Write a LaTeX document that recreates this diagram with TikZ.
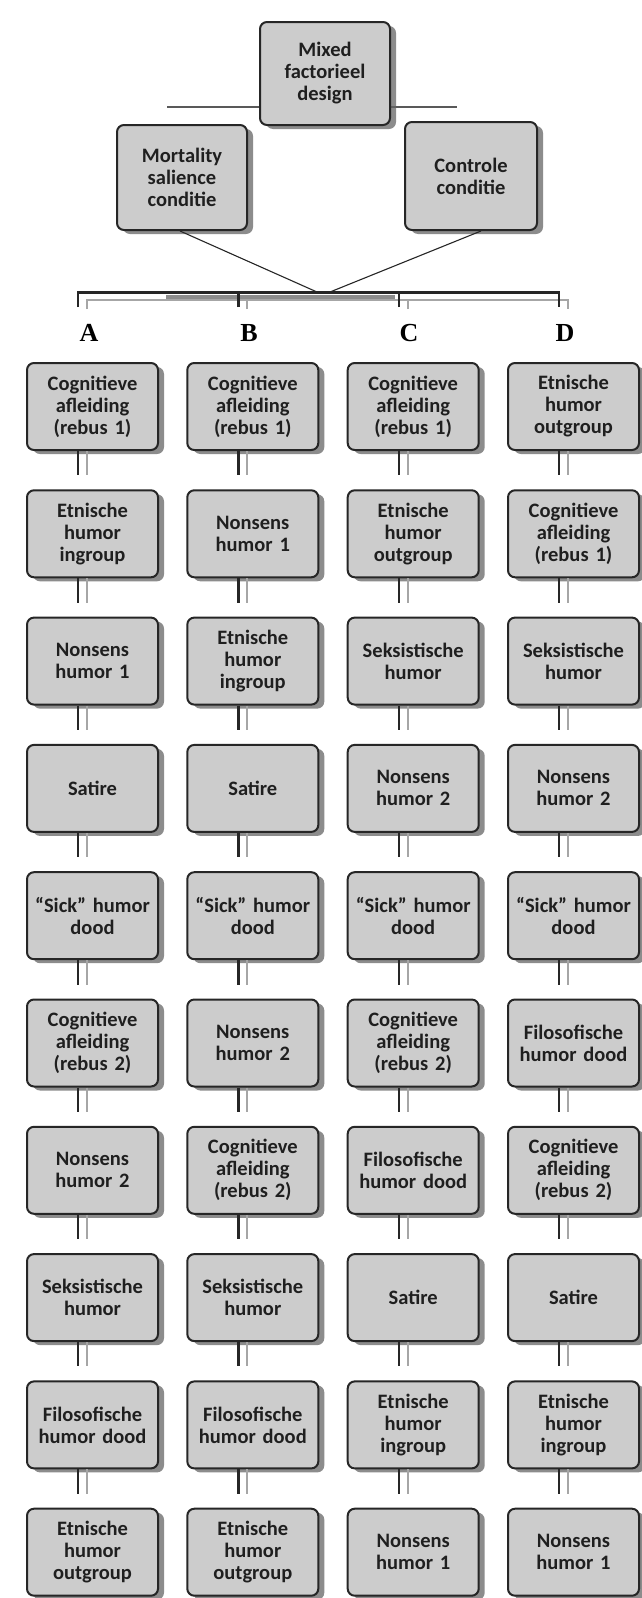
\documentclass[tikz,border=0pt]{standalone}
\usepackage{fontspec}
\setmainfont{Carlito}
\newfontfamily\kolomfont{Liberation Serif}
\usetikzlibrary{shadows}

\begin{document}
\begin{tikzpicture}[x=1pt,y=-1pt,
    blok/.style={draw=black!85,line width=2pt,rounded corners=7pt,fill=black!20,
      minimum width=131pt,minimum height=87pt,text width=128pt,align=center,
      text=black!88,font=\fontsize{20.5}{22}\selectfont\bfseries,inner sep=1pt,
      drop shadow={shadow xshift=6pt,shadow yshift=-4pt,fill=black!60,opacity=.75}},
    kop/.style={font=\kolomfont\bfseries\fontsize{26}{26}\selectfont},
    donker/.style={black!85,line width=2.4pt},
    licht/.style={black!35,line width=2pt}]
    \useasboundingbox (0,0) rectangle (641,1598);
    \fill[white] (0,0) rectangle (641,1598);
    % bovenste deel
    \coordinate (tl) at (167,107);
    \coordinate (tr) at (457,107);
    \draw[black!65,line width=2.5pt] (tl) -- (tr);
    \node[blok,minimum width=130pt,minimum height=103pt] (mixed) at (325,73.5) {Mixed\\factorieel\\design};
    \node[blok,minimum width=130pt,minimum height=105pt] (ms) at (182,177.5) {Mortality\\salience\\conditie};
    \node[blok,minimum width=132pt,minimum height=108pt] (cc) at (471,176) {Controle\\conditie};
    % de vier volgordes
    \foreach \r/\ta/\tb/\tc/\td in {
      1/{Cognitieve\\afleiding\\(rebus 1)}/{Cognitieve\\afleiding\\(rebus 1)}/{Cognitieve\\afleiding\\(rebus 1)}/{Etnische\\humor\\outgroup},
      2/{Etnische\\humor\\ingroup}/{Nonsens\\humor 1}/{Etnische\\humor\\outgroup}/{Cognitieve\\afleiding\\(rebus 1)},
      3/{Nonsens\\humor 1}/{Etnische\\humor\\ingroup}/{Seksistische\\humor}/{Seksistische\\humor},
      4/{Satire}/{Satire}/{Nonsens\\humor 2}/{Nonsens\\humor 2},
      5/{“Sick” humor\\dood}/{“Sick” humor\\dood}/{“Sick” humor\\dood}/{“Sick” humor\\dood},
      6/{Cognitieve\\afleiding\\(rebus 2)}/{Nonsens\\humor 2}/{Cognitieve\\afleiding\\(rebus 2)}/{Filosofische\\humor dood},
      7/{Nonsens\\humor 2}/{Cognitieve\\afleiding\\(rebus 2)}/{Filosofische\\humor dood}/{Cognitieve\\afleiding\\(rebus 2)},
      8/{Seksistische\\humor}/{Seksistische\\humor}/{Satire}/{Satire},
      9/{Filosofische\\humor dood}/{Filosofische\\humor dood}/{Etnische\\humor\\ingroup}/{Etnische\\humor\\ingroup},
      10/{Etnische\\humor\\outgroup}/{Etnische\\humor\\outgroup}/{Nonsens\\humor 1}/{Nonsens\\humor 1}}
    {
      \pgfmathsetmacro\yy{406.5+(\r-1)*127.3}
      \node[blok] (a\r) at (92.5,\yy) {\ta};
      \node[blok] (b\r) at (252.8,\yy) {\tb};
      \node[blok] (c\r) at (413.2,\yy) {\tc};
      \node[blok] (d\r) at (573.5,\yy) {\td};
    }
    \foreach \r [evaluate=\r as \volg using int(\r+1)] in {1,...,9}
      \foreach \k in {a,b,c,d} {
        \draw[donker] ([xshift=-14.5pt]\k\r.south) -- ([xshift=-14.5pt,yshift=14pt]\k\volg.north);
        \draw[licht] ([xshift=-5.5pt]\k\r.south) -- ([xshift=-5.5pt,yshift=14pt]\k\volg.north);
      }
    % kolomkoppen
    \node[kop] (kA) at (89,333) {A};
    \node[kop] (kB) at (249,333) {B};
    \node[kop] (kC) at (409,333) {C};
    \node[kop] (kD) at (565,333) {D};
    % splitsing
    \coordinate (ml) at (317,292);
    \coordinate (mr) at (330,292);
    \draw[black!85,line width=1.1pt] ([xshift=-2pt]ms.south) -- (ml);
    \draw[black!85,line width=1.1pt] ([xshift=10pt]cc.south) -- (mr);
    \draw[licht] ([xshift=-5.5pt,yshift=53pt]a1.north) -- ++(0,-9) -| ([xshift=-5.5pt,yshift=53pt]d1.north);
    \draw[licht] ([xshift=-5.5pt,yshift=53pt]b1.north) -- ++(0,-9);
    \draw[licht] ([xshift=-5.5pt,yshift=53pt]c1.north) -- ++(0,-9);
    \draw[black!45,line width=4pt] (166,297) -- (395,297);
    \draw[donker] ([xshift=-14.5pt,yshift=55pt]a1.north) -- ++(0,-14.5) -| ([xshift=-14.5pt,yshift=55pt]d1.north);
    \draw[donker] ([xshift=-14.5pt,yshift=55pt]b1.north) -- ++(0,-14.5);
    \draw[donker] ([xshift=-14.5pt,yshift=55pt]c1.north) -- ++(0,-14.5);
\end{tikzpicture}
\end{document}
